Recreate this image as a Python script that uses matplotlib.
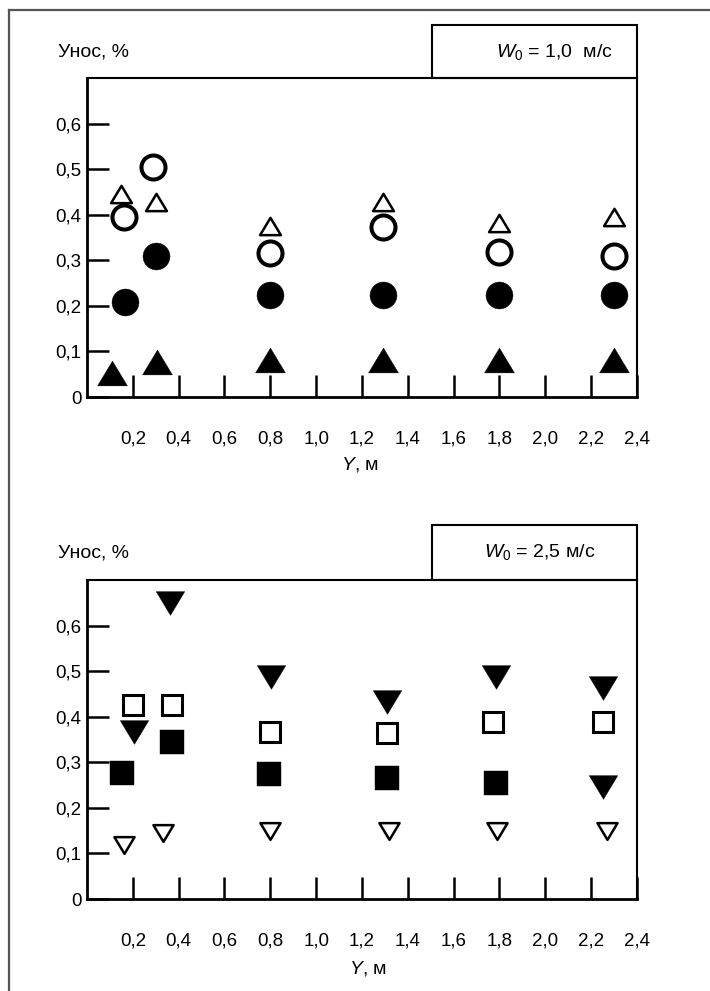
import matplotlib
matplotlib.use("Agg")
import matplotlib.pyplot as plt
from matplotlib.path import Path
from matplotlib.lines import Line2D
from matplotlib.patches import Rectangle

plt.rcParams['font.family'] = ['Liberation Sans', 'DejaVu Sans']
plt.rcParams['mathtext.fontset'] = 'custom'
plt.rcParams['mathtext.rm'] = 'Liberation Sans'
plt.rcParams['mathtext.it'] = 'Liberation Sans:italic'

# ---------------- data ----------------
x_ticks = [0.2, 0.4, 0.6, 0.8, 1.0, 1.2, 1.4, 1.6, 1.8, 2.0, 2.2, 2.4]
x_ticklabels = ["0,2", "0,4", "0,6", "0,8", "1,0", "1,2", "1,4", "1,6", "1,8", "2,0", "2,2", "2,4"]
y_ticks = [0, 0.1, 0.2, 0.3, 0.4, 0.5, 0.6]
y_ticklabels = ["0", "0,1", "0,2", "0,3", "0,4", "0,5", "0,6"]

# Panel 1: W0 = 1,0 m/s
p1_open_tri_x = [0.15, 0.30, 0.80, 1.29, 1.80, 2.30]
p1_open_tri_y = [0.445, 0.428, 0.375, 0.428, 0.381, 0.395]
p1_open_circ_x = [0.16, 0.29, 0.80, 1.29, 1.80, 2.30]
p1_open_circ_y = [0.395, 0.505, 0.316, 0.373, 0.318, 0.309]
p1_fill_circ_x = [0.165, 0.30, 0.80, 1.29, 1.80, 2.30]
p1_fill_circ_y = [0.208, 0.309, 0.224, 0.224, 0.224, 0.224]
p1_fill_tri_x = [0.11, 0.305, 0.80, 1.29, 1.80, 2.30]
p1_fill_tri_y = [0.053, 0.077, 0.081, 0.081, 0.081, 0.081]

# Panel 2: W0 = 2,5 m/s
p2_fill_dtri_x = [0.205, 0.362, 0.803, 1.31, 1.785, 2.25, 2.25]
p2_fill_dtri_y = [0.366, 0.649, 0.487, 0.432, 0.487, 0.462, 0.246]
p2_open_sq_x = [0.202, 0.371, 0.80, 1.31, 1.77, 2.25]
p2_open_sq_y = [0.425, 0.425, 0.366, 0.364, 0.388, 0.388]
p2_fill_sq_x = [0.153, 0.371, 0.795, 1.31, 1.785]
p2_fill_sq_y = [0.276, 0.344, 0.274, 0.265, 0.255]
p2_open_dtri_x = [0.162, 0.332, 0.80, 1.32, 1.79, 2.27]
p2_open_dtri_y = [0.118, 0.145, 0.149, 0.149, 0.149, 0.149]

titles = [r"$W_0$ = 1,0  м/с", r"$W_0$ = 2,5 м/с"]

# ---------------- layout ----------------
W, H = 710, 991
fig = plt.figure(figsize=(W / 100, H / 100), dpi=100)

def fx(px):
    return px / W

def fy(py):
    return 1 - py / H

up_tri = Path([(-1, -0.83), (1, -0.83), (0, 0.83), (-1, -0.83)],
              [Path.MOVETO, Path.LINETO, Path.LINETO, Path.CLOSEPOLY])
down_tri = Path([(-1, 0.83), (1, 0.83), (0, -0.83), (-1, 0.83)],
                [Path.MOVETO, Path.LINETO, Path.LINETO, Path.CLOSEPOLY])

# figure border (top & left)
fig.add_artist(Line2D([fx(9), fx(9)], [fy(10), fy(991)], color='#555555', lw=1.6))
fig.add_artist(Line2D([fx(9), fx(710)], [fy(10), fy(10)], color='#555555', lw=1.6))

panels = [dict(top=78, bottom=397, box_top=25, title_x=613, ha='right', ylab_y=52,
               xlab_y=465, xlab_x=360),
          dict(top=580, bottom=899, box_top=525, title_x=540, ha='center', ylab_y=553,
               xlab_y=968, xlab_x=368)]

axes = []
for i, p in enumerate(panels):
    left, right = 87, 637
    ax = fig.add_axes([fx(left), fy(p['bottom']), (right - left) / W,
                       (p['bottom'] - p['top']) / H])
    ax.set_xlim(0, 2.4)
    ax.set_ylim(0, 0.7)
    ax.set_xticks(x_ticks)
    ax.set_xticklabels(x_ticklabels)
    ax.set_yticks(y_ticks)
    ax.set_yticklabels(y_ticklabels)
    ax.tick_params(axis='both', direction='in', length=16, width=1.8,
                   labelsize=13.5, color='black')
    ax.tick_params(axis='x', pad=24)
    ax.tick_params(axis='y', pad=4)
    for s in ['left', 'bottom']:
        ax.spines[s].set_linewidth(2.0)
    for s in ['top', 'right']:
        ax.spines[s].set_linewidth(1.5)
    # box with title
    fig.add_artist(Rectangle((fx(432), fy(p['top'])), (637 - 432) / W,
                             (p['top'] - p['box_top']) / H, fill=False,
                             edgecolor='black', lw=1.5))
    fig.text(fx(p['title_x']), fy((p['top'] + p['box_top']) / 2), titles[i],
             fontsize=14, ha=p['ha'], va='center')
    fig.text(fx(94), fy(p['ylab_y']), "Унос, %", fontsize=14, ha='center', va='center')
    fig.text(fx(p['xlab_x']), fy(p['xlab_y']), r"$Y$, м", fontsize=14,
             ha='center', va='center')
    axes.append(ax)

ax1, ax2 = axes
kw = dict(linestyle='none', clip_on=False)
ax1.plot(p1_open_tri_x, p1_open_tri_y, marker=up_tri, ms=15, mfc='white', mec='black', mew=1.8, **kw)
ax1.plot(p1_open_circ_x, p1_open_circ_y, marker='o', ms=17.3, mfc='white', mec='black', mew=2.9, **kw)
ax1.plot(p1_fill_circ_x, p1_fill_circ_y, marker='o', ms=19.4, mfc='black', mec='black', mew=0.3, **kw)
ax1.plot(p1_fill_tri_x, p1_fill_tri_y, marker=up_tri, ms=21.5, mfc='black', mec='black', mew=0.3, **kw)

ax2.plot(p2_fill_dtri_x, p2_fill_dtri_y, marker=down_tri, ms=20.5, mfc='black', mec='black', mew=0.3, **kw)
ax2.plot(p2_open_sq_x, p2_open_sq_y, marker='s', ms=15, mfc='white', mec='black', mew=2.2, **kw)
ax2.plot(p2_fill_sq_x, p2_fill_sq_y, marker='s', ms=17.5, mfc='black', mec='black', mew=0.3, **kw)
ax2.plot(p2_open_dtri_x, p2_open_dtri_y, marker=down_tri, ms=14.5, mfc='white', mec='black', mew=1.8, **kw)

fig.savefig("out.png", dpi=100)
